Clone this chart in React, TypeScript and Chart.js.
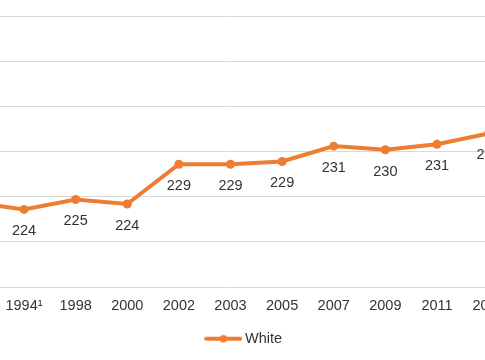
import React, { useEffect, useRef } from "react";
import { Chart, registerables } from "chart.js";

Chart.register(...registerables);

const categories = ["1992", "1994¹", "1998", "2000", "2002", "2003", "2005", "2007", "2009", "2011", "2013"];
const whiteScores = [224.4, 223.6, 224.7, 224.2, 228.6, 228.6, 228.9, 230.6, 230.2, 230.8, 232.0];
const seriesName = "White";
const yMin = 215;
const yMax = 245;
const yStep = 5;

const ORANGE = "#ED7D31";
const TEXT = "#333333";
const GRID = "#D9D9D9";
const FONT = "'Liberation Sans', Arial, sans-serif";

const CANVAS_LEFT = -100;
const CANVAS_W = 687;
const CANVAS_H = 360;

function makeLegendIcon(): HTMLCanvasElement {
  const c = document.createElement("canvas");
  c.width = 38;
  c.height = 10;
  const ctx = c.getContext("2d")!;
  ctx.strokeStyle = ORANGE;
  ctx.lineWidth = 4;
  ctx.lineCap = "round";
  ctx.beginPath();
  ctx.moveTo(2, 5);
  ctx.lineTo(36, 5);
  ctx.stroke();
  ctx.fillStyle = ORANGE;
  ctx.beginPath();
  ctx.arc(19, 5, 3.8, 0, Math.PI * 2);
  ctx.fill();
  return c;
}

const dataLabelPlugin = {
  id: "dataLabelsBelow",
  afterDatasetsDraw(chart: any) {
    const ctx = chart.ctx;
    const meta = chart.getDatasetMeta(0);
    const values = chart.data.datasets[0].data as number[];
    ctx.save();
    ctx.font = `14.5px ${FONT}`;
    ctx.fillStyle = TEXT;
    ctx.textAlign = "center";
    ctx.textBaseline = "middle";
    meta.data.forEach((pt: any, i: number) => {
      ctx.fillText(String(Math.round(values[i])), pt.x, pt.y + 22);
    });
    ctx.restore();
  },
};

export default function App() {
  const ref = useRef<HTMLCanvasElement>(null);

  useEffect(() => {
    if (!ref.current) return;
    const icon = makeLegendIcon();
    const chart = new Chart(ref.current, {
      type: "line",
      data: {
        labels: categories,
        datasets: [
          {
            label: seriesName,
            data: whiteScores,
            borderColor: ORANGE,
            backgroundColor: ORANGE,
            borderWidth: 4,
            pointRadius: 4.5,
            pointBackgroundColor: ORANGE,
            pointBorderColor: ORANGE,
            pointBorderWidth: 0,
            tension: 0,
            pointStyle: "circle",
            yAxisID: "y",
          },
        ],
      },
      options: {
        responsive: false,
        devicePixelRatio: 1,
        animation: false,
        layout: { padding: { top: 16, left: 72.4, right: 68.2, bottom: 4 } },
        scales: {
          x: {
            offset: false,
            grid: { display: false, drawTicks: false },
            border: { display: true, color: GRID, width: 1 },
            ticks: {
              color: TEXT,
              font: { family: FONT, size: 14.5 },
              padding: 10,
              maxRotation: 0,
              autoSkip: false,
            },
          },
          y: {
            min: yMin,
            max: yMax,
            grid: { color: GRID, lineWidth: 1, drawTicks: false },
            border: { display: false },
            ticks: { display: false, stepSize: yStep },
          },
          y2: {
            type: "linear",
            position: "right",
            min: yMin,
            max: yMax,
            grid: { display: false, drawTicks: false },
            border: { display: false },
            ticks: { display: false },
            afterFit: (scale: any) => {
              scale.width = 30.2;
            },
          },
        },
        plugins: {
          legend: {
            position: "bottom",
            labels: {
              usePointStyle: true,
              pointStyle: icon as any,
              pointStyleWidth: 28.5,
              color: TEXT,
              font: { family: FONT, size: 14.5 },
              padding: 7,
            },
          },
          tooltip: { enabled: false },
        },
      },
      plugins: [dataLabelPlugin],
    });
    return () => chart.destroy();
  }, []);

  return (
    <div style={{ position: "absolute", left: CANVAS_LEFT, top: 0, width: CANVAS_W, height: CANVAS_H }}>
      <canvas ref={ref} width={CANVAS_W} height={CANVAS_H} />
    </div>
  );
}
